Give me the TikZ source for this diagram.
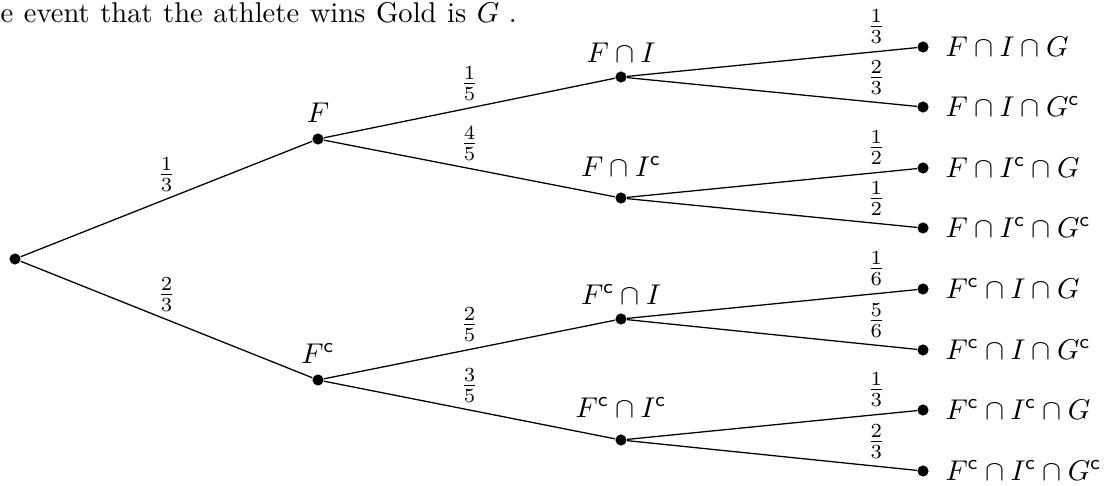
\documentclass[tikz,border=0pt]{standalone}
\begin{document}
\begin{tikzpicture}[x=0.35pt,y=-0.35pt,
  dot/.style={circle,fill=black,inner sep=0pt,minimum size=3.9pt},
  lbl/.style={anchor=base,inner sep=0pt},
  leaf/.style={anchor=base west,inner sep=0pt},
  br/.style={line width=0.45pt},
  pr/.style={above,inner sep=2.5pt}]
\useasboundingbox (0,0) rectangle (1107,485);
\node[anchor=base west,inner sep=0pt] (title) at (0,22) {\spaceskip=3.7pt e event that the athlete wins Gold is $G$\,\,.};
% nodes
\node[dot] (r) at (15,259) {};
\node[dot] (f) at (318,139) {};
\node[dot] (fc) at (318,380) {};
\node[dot] (fi) at (621,77) {};
\node[dot] (fic) at (621,198) {};
\node[dot] (fci) at (621,319) {};
\node[dot] (fcic) at (621,440) {};
\node[dot] (l1) at (923,47) {};
\node[dot] (l2) at (923,107) {};
\node[dot] (l3) at (923,168) {};
\node[dot] (l4) at (923,228) {};
\node[dot] (l5) at (923,289) {};
\node[dot] (l6) at (923,350) {};
\node[dot] (l7) at (923,410) {};
\node[dot] (l8) at (923,471) {};
% node labels
\node[lbl] (tf) at (318,122) {$F$};
\node[lbl] (tfc) at (318,363) {$F^{\mathsf{c}}$};
\node[lbl] (tfi) at (621,62) {$F\cap I$};
\node[lbl] (tfic) at (621,176) {$F\cap I^{\mathsf{c}}$};
\node[lbl] (tfci) at (621,304) {$F^{\mathsf{c}}\cap I$};
\node[lbl] (tfcic) at (621,417) {$F^{\mathsf{c}}\cap I^{\mathsf{c}}$};
\node[leaf] (t1) at (945,56) {$F\cap I\cap G$};
\node[leaf] (t2) at (945,116) {$F\cap I\cap G^{\mathsf{c}}$};
\node[leaf] (t3) at (945,177) {$F\cap I^{\mathsf{c}}\cap G$};
\node[leaf] (t4) at (945,237) {$F\cap I^{\mathsf{c}}\cap G^{\mathsf{c}}$};
\node[leaf] (t5) at (945,298) {$F^{\mathsf{c}}\cap I\cap G$};
\node[leaf] (t6) at (945,359) {$F^{\mathsf{c}}\cap I\cap G^{\mathsf{c}}$};
\node[leaf] (t7) at (945,419) {$F^{\mathsf{c}}\cap I^{\mathsf{c}}\cap G$};
\node[leaf] (t8) at (945,480) {$F^{\mathsf{c}}\cap I^{\mathsf{c}}\cap G^{\mathsf{c}}$};
% edges
\draw[br] (r) -- node[pr,midway] {$\frac{1}{3}$} (f);
\draw[br] (r) -- node[pr,midway] {$\frac{2}{3}$} (fc);
\draw[br] (f) -- node[pr,midway] {$\frac{1}{5}$} (fi);
\draw[br] (f) -- node[pr,midway] {$\frac{4}{5}$} (fic);
\draw[br] (fc) -- node[pr,midway] {$\frac{2}{5}$} (fci);
\draw[br] (fc) -- node[pr,midway] {$\frac{3}{5}$} (fcic);
\draw[br] (fi) -- node[pr,pos=0.86] {$\frac{1}{3}$} (l1);
\draw[br] (fi) -- node[pr,pos=0.86] {$\frac{2}{3}$} (l2);
\draw[br] (fic) -- node[pr,pos=0.86] {$\frac{1}{2}$} (l3);
\draw[br] (fic) -- node[pr,pos=0.86] {$\frac{1}{2}$} (l4);
\draw[br] (fci) -- node[pr,pos=0.86] {$\frac{1}{6}$} (l5);
\draw[br] (fci) -- node[pr,pos=0.86] {$\frac{5}{6}$} (l6);
\draw[br] (fcic) -- node[pr,pos=0.86] {$\frac{1}{3}$} (l7);
\draw[br] (fcic) -- node[pr,pos=0.86] {$\frac{2}{3}$} (l8);
\end{tikzpicture}
\end{document}
